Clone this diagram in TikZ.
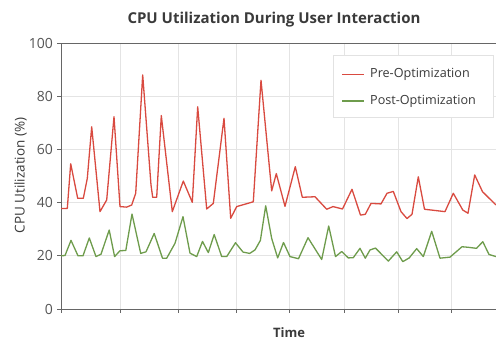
\documentclass[tikz,border=0pt]{standalone}
\usepackage{fontspec}
\setmainfont{Open Sans}
\usetikzlibrary{shadows}
\definecolor{preRed}{HTML}{D94A40}
\definecolor{postGreen}{HTML}{6E9C4C}
\definecolor{gridGray}{HTML}{E4E4E4}
\definecolor{axisGray}{HTML}{666666}
\definecolor{labelGray}{HTML}{555555}
\definecolor{titleGray}{HTML}{3A3A3A}
\definecolor{legendGray}{HTML}{E2E2E2}

\begin{document}
\begin{tikzpicture}[x=1pt, y=1pt,
    grid line/.style={draw=gridGray, line width=0.8pt},
    axis line/.style={draw=axisGray, line width=0.9pt},
    tick label/.style={font=\fontsize{14}{16}\selectfont, text=labelGray, anchor=east, inner sep=0pt},
    legend text/.style={font=\fontsize{12.6}{15}\selectfont, text=titleGray, anchor=west, inner sep=0pt},
    pre line/.style={draw=preRed, line width=1.3pt, line join=round},
    post line/.style={draw=postGreen, line width=1.3pt, line join=round}]
  \useasboundingbox[fill=white] (0,0) rectangle (496,340);

  % title and axis names
  \node[font=\fontsize{15}{18}\selectfont\bfseries, text=titleGray] (title) at (274,320) {CPU Utilization During User Interaction};
  \node[font=\fontsize{13.5}{16}\selectfont, text=titleGray, rotate=90] (ylabel) at (20.5,164.5) {CPU Utilization (\%)};
  \node[font=\fontsize{13}{15}\selectfont\bfseries, text=titleGray] (xlabel) at (289,7) {Time};

  \begin{scope}[yshift=31pt, y=2.66pt]
    % grid
    \foreach \gx in {120,178,236,289,344,398,451}
      \draw[grid line] (\gx,0) -- (\gx,100);
    \foreach \gy in {20,40,60,80}
      \draw[grid line] (61,\gy) -- (496,\gy);

    % axes and ticks
    \draw[axis line] (61,100) -- (496,100);
    \draw[axis line] (61,0) -- (61,100);
    \draw[axis line] (61,0) -- (496,0);
    \foreach \gy in {0,20,...,100}
    {
      \draw[axis line] (57,\gy) -- (61,\gy);
      \node[tick label] (ylab\gy) at (53,\gy) {\gy};
    }
    \foreach \gx in {61,120,178,236,289,344,398,451}
      \draw[axis line] (\gx,0) -- (\gx,-1.5);

    % pre-optimization
    \draw[pre line] plot coordinates {
      (61,37.8) (67.3,37.8) (70.7,54.6) (77.7,41.6) (83.3,41.6) (87.3,49.1)
      (91.7,68.5) (100,36.6) (106.7,41) (114,72.3) (120,38.5) (126.7,38.3)
      (131.7,39.1) (135.7,43.5) (142.7,88) (151,46.6) (152.7,42) (156.7,42)
      (161.3,72.7) (172.3,36.6) (183.3,48.1) (192.3,40.1) (197.7,76) (206.7,37.6)
      (213.3,39.7) (224,71.7) (230.7,34.1) (236.7,38.5) (253.3,40.3) (261,86)
      (271.7,44.4) (276.3,50.9) (285,38.6) (295.3,53.5) (302.3,42) (315,42.2)
      (326.7,37.5) (333,38.5) (342.5,37.6) (352,45) (360.5,35.3) (365.3,35.6)
      (371,39.7) (381,39.5) (387,43.5) (393.3,44.2) (401,36.6) (407,34)
      (412,35.6) (418.3,49.7) (424.5,37.5) (445,36.6) (453.3,43.5) (462.8,37.2)
      (468,36) (474.7,50.4) (482.5,44.1) (496,39.1)};

    % post-optimization
    \draw[post line] plot coordinates {
      (61,20) (65,20.1) (71,25.8) (78,20) (83,20) (89.3,26.7) (96,19.7)
      (101,20.6) (109.2,29.7) (114.6,19.7) (120,21.9) (125.8,22) (132,35.7)
      (140.7,20.9) (146,21.5) (154.2,28.4) (162.5,19.1) (166.7,19.1) (175,24.7)
      (183,34.7) (190,21) (196.7,19.7) (202.5,25.4) (208.3,21.2) (214.2,28)
      (221.7,19.7) (226.7,19.7) (235.5,24.9) (243,21.4) (249.7,20.9) (255,22.2)
      (260.4,25.8) (265.7,38.8) (271.7,26.5) (277.7,19.2) (283.5,25) (290,19.7)
      (298.5,18.9) (308,26.8) (321.7,18.6) (328.7,31.2) (335.5,19.7) (341.7,21.6)
      (348.3,19.2) (353.3,19.3) (360,22.8) (365.3,19.1) (370,22.2) (375.5,22.9)
      (388.3,18) (396.7,21.5) (402.8,17.8) (409.2,19.2) (416.7,22.7) (423.3,19.7)
      (431.7,29.2) (440,19.1) (450,19.5) (462,23.4) (468.3,23.2) (476.5,22.8)
      (482.8,25.3) (489,20.5) (496,19.7)};
  \end{scope}

  % legend
  \node[draw=legendGray, fill=white, minimum width=160pt, minimum height=62pt,
        drop shadow={shadow xshift=1pt, shadow yshift=-1.5pt, opacity=0.15}] (legend) at (413,254) {};
  \coordinate (preA) at (342,265.7);
  \coordinate (preB) at (364,265.7);
  \coordinate (postA) at (342,239);
  \coordinate (postB) at (364,239);
  \draw[pre line] (preA) -- (preB);
  \draw[post line] (postA) -- (postB);
  \node[legend text] (preText) at (370,265.7) {Pre-Optimization};
  \node[legend text] (postText) at (370,239) {Post-Optimization};
\end{tikzpicture}
\end{document}
